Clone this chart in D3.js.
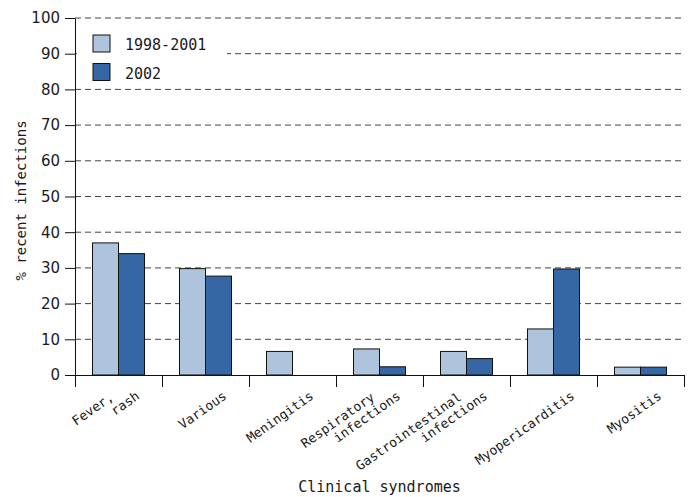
<!DOCTYPE html>
<html>
<head>
<meta charset="utf-8">
<script src="https://cdn.jsdelivr.net/npm/d3@7"></script>
<style>
  body { margin: 0; background: #fff; }
  svg text { font-family: "DejaVu Sans Mono", monospace; fill: #1a1a1a; }
</style>
</head>
<body>
<svg id="chart" width="693" height="497"></svg>
<script>
// data
const categories = ["Fever, rash", "Various", "Meningitis", "Respiratory infections",
  "Gastrointestinal infections", "Myopericarditis", "Myositis"];
const labelLines = [["Fever,", "rash"], ["Various"], ["Meningitis"], ["Respiratory", "infections"],
  ["Gastrointestinal", "infections"], ["Myopericarditis"], ["Myositis"]];
const series = ["1998-2001", "2002"];
const values1998 = [37, 29.8, 6.6, 7.3, 6.6, 12.9, 2.2];
const values2002 = [34, 27.7, 0, 2.3, 4.6, 29.7, 2.2];
const yTicks = [0, 10, 20, 30, 40, 50, 60, 70, 80, 90, 100];
const colors = ["#aec3dc", "#3467a3"];

const margin = {top: 18, right: 9, bottom: 122, left: 75};
const width = 693, height = 497;

let svg = d3.select("#chart");

let y = d3.scaleLinear()
  .domain([0, 100])
  .range([height - margin.bottom, margin.top]);

let x0 = d3.scaleBand()
  .domain(categories)
  .range([margin.left, width - margin.right])
  .padding(0);

let x1 = d3.scaleBand()
  .domain(series)
  .range([17.5, x0.bandwidth() - 17.5])
  .padding(0);

// gridlines
svg.append("g")
  .selectAll("line")
  .data(yTicks.filter(d => d > 0))
  .join("line")
  .attr("x1", margin.left)
  .attr("x2", width - margin.right)
  .attr("y1", d => y(d))
  .attr("y2", d => y(d))
  .attr("stroke", "#444")
  .attr("stroke-width", 1)
  .attr("stroke-dasharray", "6,4");

// bars
let rows = categories.map((c, i) => ({cat: c, vals: [values1998[i], values2002[i]]}));

svg.append("g")
  .selectAll("g")
  .data(rows)
  .join("g")
  .attr("transform", d => `translate(${x0(d.cat)},0)`)
  .selectAll("rect")
  .data(d => d.vals.map((v, j) => ({s: series[j], v: v, j: j})).filter(e => e.v > 0))
  .join("rect")
  .attr("x", d => x1(d.s))
  .attr("width", x1.bandwidth())
  .attr("y", d => y(d.v))
  .attr("height", d => y(0) - y(d.v))
  .attr("fill", d => colors[d.j])
  .attr("stroke", "#111")
  .attr("stroke-width", 1);

// y axis
let yAxis = svg.append("g")
  .attr("transform", `translate(${margin.left},0)`)
  .call(d3.axisLeft(y).tickValues(yTicks).tickSize(10).tickSizeOuter(0).tickPadding(5));
yAxis.selectAll("text").style("font-size", "15px").style("font-family", "DejaVu Sans, sans-serif");
yAxis.selectAll("line, path").attr("stroke", "#111");

// x axis: ticks at category boundaries
let xb = d3.scaleLinear().domain([0, categories.length]).range([margin.left, width - margin.right]);
let xAxis = svg.append("g")
  .attr("transform", `translate(0,${y(0)})`)
  .call(d3.axisBottom(xb).ticks(categories.length).tickFormat("").tickSize(12).tickSizeOuter(0));
xAxis.selectAll("line, path").attr("stroke", "#111");

// category labels
let labels = svg.append("g")
  .selectAll("text")
  .data(labelLines)
  .join("text")
  .attr("transform", (d, i) => `translate(${x0(categories[i]) + x0.bandwidth() / 2 + 22},${y(0) + 23}) rotate(-35)`)
  .style("text-anchor", "end")
  .style("font-size", "13px");

labels.each(function(lines) {
  let t = d3.select(this);
  lines.forEach((ln, k) => {
    let off = lines.length - 1 - k;
    t.append("tspan")
      .attr("x", -off * 22)
      .attr("y", -off * 14)
      .text(ln);
  });
});

// axis titles
svg.append("text")
  .text("Clinical syndromes")
  .attr("x", (margin.left + width - margin.right) / 2)
  .attr("y", 492)
  .style("text-anchor", "middle")
  .style("font-size", "15px");

svg.append("text")
  .text("% recent infections")
  .attr("transform", `translate(26,${(margin.top + y(0)) / 2 + 4}) rotate(-90)`)
  .style("text-anchor", "middle")
  .style("font-size", "14px");

// legend
let legend = svg.append("g");
legend.append("rect")
  .attr("x", margin.left + 2)
  .attr("y", 28)
  .attr("width", 150)
  .attr("height", 58)
  .attr("fill", "#fff");

legend.selectAll("g")
  .data(series)
  .join("g")
  .attr("transform", (d, i) => `translate(93,${35 + i * 28.5})`)
  .each(function(d, i) {
    let g = d3.select(this);
    g.append("rect")
      .attr("width", 17)
      .attr("height", 17)
      .attr("fill", colors[i])
      .attr("stroke", "#111");
    g.append("text")
      .text(d)
      .attr("x", 32)
      .attr("y", 15)
      .style("font-size", "15px");
  });
</script>
</body>
</html>
